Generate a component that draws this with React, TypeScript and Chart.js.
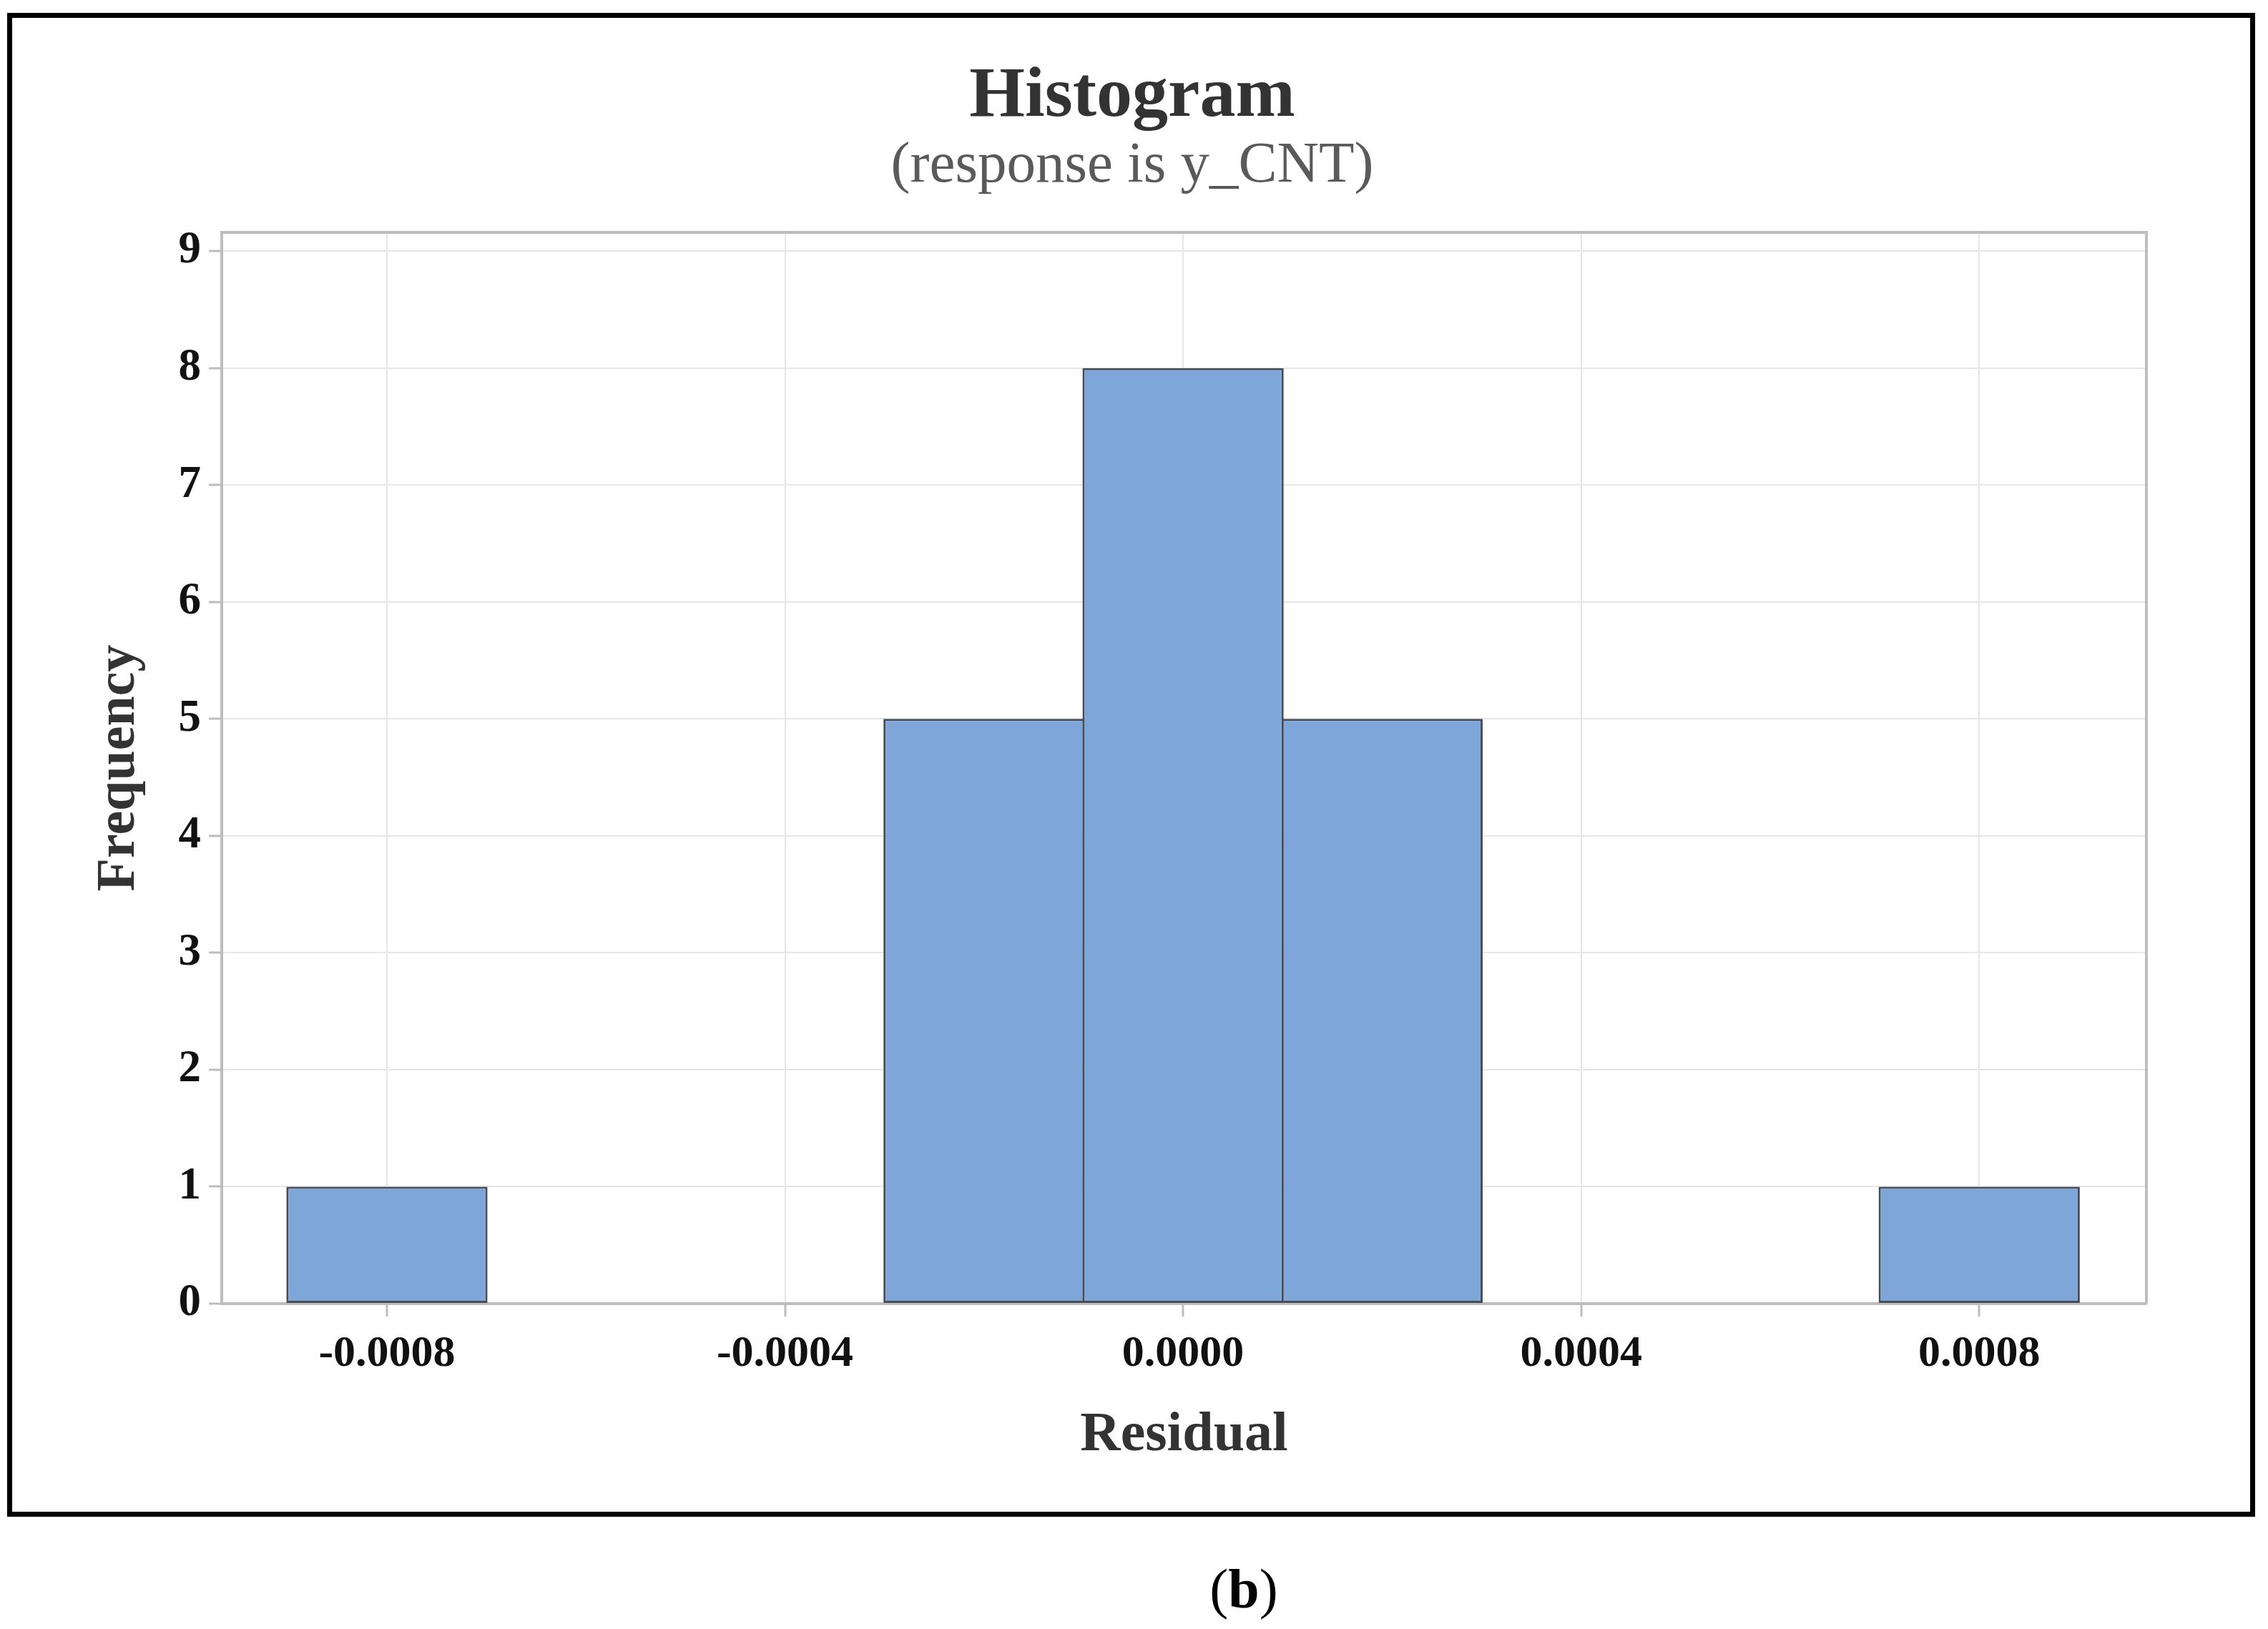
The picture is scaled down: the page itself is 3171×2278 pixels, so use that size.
import React, { useEffect, useRef } from 'react';
import { Chart, registerables } from 'chart.js';

Chart.register(...registerables);

// ---- data ----
const binCenters = [-0.0008, -0.0006, -0.0004, -0.0002, 0, 0.0002, 0.0004, 0.0006, 0.0008];
const frequencies = [1, 0, 0, 5, 8, 5, 0, 0, 1];
const xTickValues = [-0.0008, -0.0004, 0, 0.0004, 0.0008];
const yTickValues = [0, 1, 2, 3, 4, 5, 6, 7, 8, 9];
const titleText = 'Histogram';
const subtitleText = '(response is y_CNT)';
const xAxisTitle = 'Residual';
const yAxisTitle = 'Frequency';
const panelLabel = 'b';

const W = 3171;
const H = 2278;
const FONT = "'Liberation Serif', 'Times New Roman', serif";

const plotFrame = {
  id: 'plotFrame',
  afterDatasetsDraw(chart: any) {
    const { ctx, chartArea: a } = chart;
    ctx.save();
    ctx.strokeStyle = '#bdbdbd';
    ctx.lineWidth = 4;
    ctx.beginPath();
    ctx.moveTo(a.left, a.top);
    ctx.lineTo(a.right, a.top);
    ctx.lineTo(a.right, a.bottom);
    ctx.stroke();
    ctx.restore();
  },
};

export default function App() {
  const ref = useRef<HTMLCanvasElement | null>(null);

  useEffect(() => {
    if (!ref.current) return;
    const chart = new Chart(ref.current, {
      type: 'bar',
      data: {
        datasets: [
          {
            data: binCenters.map((x, i) => ({ x, y: frequencies[i] })),
            backgroundColor: '#7ea6d8',
            borderColor: '#474c55',
            borderWidth: 3,
            borderSkipped: false,
            barPercentage: 1.0108,
            categoryPercentage: 1,
          },
        ],
      },
      options: {
        responsive: false,
        maintainAspectRatio: false,
        animation: false,
        devicePixelRatio: 1,
        layout: { padding: { left: 165, right: 170, top: 0, bottom: 225 } },
        plugins: {
          legend: { display: false },
          tooltip: { enabled: false },
          title: {
            display: true,
            text: titleText,
            color: '#333333',
            font: { family: FONT, size: 100, weight: 'bold', lineHeight: 1 },
            padding: { top: 86, bottom: 0 },
          },
          subtitle: {
            display: true,
            text: subtitleText,
            color: '#5a5a5a',
            font: { family: FONT, size: 81, weight: 'normal', lineHeight: 1 },
            padding: { top: 6, bottom: 52 },
          },
        },
        scales: {
          x: {
            type: 'linear',
            min: -0.000966,
            max: 0.000968,
            offset: false,
            afterBuildTicks: (s: any) => {
              s.ticks = xTickValues.map((v) => ({ value: v }));
            },
            afterFit: (s: any) => {
              s.height = 230;
            },
            grid: {
              offset: false,
              color: '#e6e6e6',
              lineWidth: 2,
              drawTicks: true,
              tickLength: 18,
              tickColor: '#bdbdbd',
              tickWidth: 3,
            },
            border: { display: true, color: '#bdbdbd', width: 4 },
            ticks: {
              padding: 16,
              color: '#111111',
              maxRotation: 0,
              autoSkip: false,
              font: { family: FONT, size: 62, weight: 'bold' },
              callback: (v: any) => Number(v).toFixed(4),
            },
            title: {
              display: true,
              text: xAxisTitle,
              color: '#333333',
              font: { family: FONT, size: 78, weight: 'bold', lineHeight: 1 },
              padding: { top: 0, bottom: 6 },
            },
          },
          y: {
            type: 'linear',
            min: 0,
            max: 9.16,
            afterBuildTicks: (s: any) => {
              s.ticks = yTickValues.map((v) => ({ value: v }));
            },
            afterFit: (s: any) => {
              s.width = 145;
            },
            grid: {
              color: '#e6e6e6',
              lineWidth: 2,
              drawTicks: true,
              tickLength: 18,
              tickColor: '#bdbdbd',
              tickWidth: 3,
            },
            border: { display: true, color: '#bdbdbd', width: 4 },
            ticks: {
              padding: 11,
              color: '#111111',
              autoSkip: false,
              font: { family: FONT, size: 63, weight: 'bold' },
              callback: (v: any) => String(v),
            },
            title: {
              display: true,
              text: yAxisTitle,
              color: '#333333',
              font: { family: FONT, size: 76, weight: 'bold', lineHeight: 0.05 },
              padding: { top: 0, bottom: 0 },
            },
          },
        },
      } as any,
      plugins: [plotFrame],
    });
    return () => chart.destroy();
  }, []);

  return (
    <div
      style={{
        position: 'fixed',
        left: 0,
        top: 0,
        width: W,
        height: H,
        background: '#ffffff',
        overflow: 'hidden',
      }}
    >
      <canvas
        ref={ref}
        width={W}
        height={H}
        style={{ position: 'absolute', left: 0, top: 0, width: W, height: H }}
      />
      <div
        style={{
          position: 'absolute',
          left: 10,
          top: 18,
          width: 3143,
          height: 2103,
          border: '7px solid #000000',
          boxSizing: 'border-box',
          pointerEvents: 'none',
        }}
      />
      <div
        style={{
          position: 'absolute',
          left: 1739,
          top: 2183,
          transform: 'translateX(-50%)',
          fontFamily: FONT,
          fontSize: 78,
          lineHeight: '78px',
          color: '#000000',
          whiteSpace: 'nowrap',
        }}
      >
        (<b>{panelLabel}</b>)
      </div>
    </div>
  );
}
